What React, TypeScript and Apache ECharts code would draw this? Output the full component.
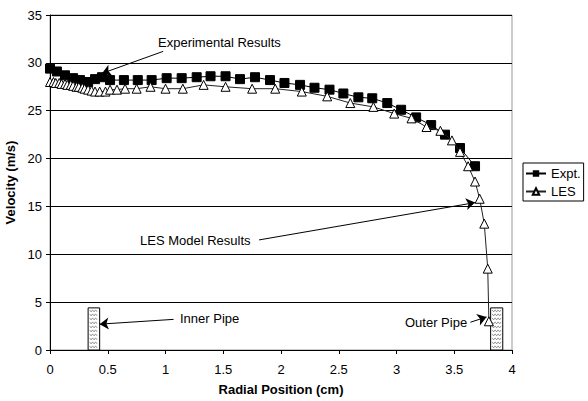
import React, { useEffect, useRef } from "react";
import * as echarts from "echarts";

const exptX = [0, 0.06, 0.13, 0.2, 0.26, 0.33, 0.39, 0.45, 0.52, 0.64, 0.76, 0.88, 1.01, 1.14, 1.27, 1.39, 1.52, 1.645, 1.775, 1.905, 2.03, 2.165, 2.29, 2.42, 2.54, 2.67, 2.79, 2.92, 3.04, 3.17, 3.3, 3.42, 3.55, 3.68];
const exptY = [29.4, 29.1, 28.7, 28.4, 28.2, 28.0, 28.3, 28.5, 28.2, 28.2, 28.2, 28.2, 28.4, 28.4, 28.5, 28.6, 28.6, 28.3, 28.5, 28.2, 27.9, 27.7, 27.4, 27.2, 26.8, 26.4, 26.3, 25.8, 25.1, 24.3, 23.5, 22.5, 21.1, 19.2];

const lesX = [0, 0.03, 0.05, 0.08, 0.1, 0.13, 0.15, 0.18, 0.2, 0.23, 0.25, 0.28, 0.3, 0.33, 0.36, 0.39, 0.43, 0.48, 0.52, 0.58, 0.65, 0.75, 0.87, 1.0, 1.15, 1.33, 1.52, 1.75, 1.95, 2.18, 2.4, 2.6, 2.8, 2.98, 3.13, 3.26, 3.38, 3.48, 3.55, 3.62, 3.68, 3.72, 3.76, 3.79, 3.8];
const lesY = [28.0, 28.0, 27.9, 27.9, 27.8, 27.8, 27.7, 27.7, 27.6, 27.5, 27.5, 27.4, 27.3, 27.2, 27.1, 27.0, 27.0, 27.0, 27.2, 27.2, 27.3, 27.3, 27.5, 27.3, 27.3, 27.7, 27.5, 27.3, 27.3, 27.0, 26.5, 25.8, 25.4, 24.7, 24.2, 23.3, 22.9, 21.9, 20.7, 19.2, 17.6, 15.8, 13.2, 8.5, 3.0];

// pipes: [xStart, xEnd, height]
const pipes = [
  [0.33, 0.43, 4.4],
  [3.815, 3.92, 4.4],
];

// annotation arrows: [fromX, fromY, toX, toY]
const arrows = [
  [0.98, 31.2, 0.45, 28.9],
  [1.81, 11.5, 3.68, 15.4],
  [1.07, 3.2, 0.43, 2.7],
  [3.64, 2.9, 3.78, 3.45],
];

const notes = [
  { text: "Experimental Results", x: 158, y: 44 },
  { text: "LES Model Results", x: 140, y: 242 },
  { text: "Inner Pipe", x: 180, y: 320 },
  { text: "Outer Pipe", x: 405, y: 324 },
];

const FONT = "Liberation Sans, Arial, sans-serif";
const FS = 13;

export default function App() {
  const ref = useRef<HTMLDivElement>(null);
  useEffect(() => {
    if (!ref.current) return;
    const chart = echarts.init(ref.current, null, { renderer: "svg" });
    const option: any = {
      animation: false,
      backgroundColor: "#fff",
      textStyle: { fontFamily: FONT },
      grid: {
        left: 50,
        top: 15,
        right: 76,
        bottom: 51,
        containLabel: false,
        outerBoundsMode: "none",
        show: true,
        borderColor: "#999",
        borderWidth: 1,
        backgroundColor: "transparent",
      },
      legend: {
        orient: "vertical",
        left: 523,
        top: 163,
        data: ["Expt.", "LES"],
        borderColor: "#000",
        borderWidth: 1,
        padding: [4, 3, 3, 2],
        itemGap: 5,
        itemWidth: 20,
        itemHeight: 8,
        textStyle: { fontFamily: FONT, fontSize: FS, color: "#000" },
      },
      xAxis: {
        type: "value",
        min: 0,
        max: 4,
        interval: 0.5,
        name: "Radial Position (cm)",
        nameLocation: "middle",
        nameGap: 33,
        nameTextStyle: { fontFamily: FONT, fontSize: FS, fontWeight: "bold", color: "#000" },
        axisLine: { lineStyle: { color: "#000", width: 1 } },
        axisTick: { show: true, length: 4, lineStyle: { color: "#000" } },
        axisLabel: { fontFamily: FONT, fontSize: FS, color: "#000", margin: 13 },
        splitLine: { show: false },
      },
      yAxis: {
        type: "value",
        min: 0,
        max: 35,
        interval: 5,
        name: "Velocity (m/s)",
        nameLocation: "middle",
        nameGap: 27,
        nameTextStyle: { fontFamily: FONT, fontSize: FS, fontWeight: "bold", color: "#000" },
        axisLine: { show: true, lineStyle: { color: "#000", width: 1 } },
        axisTick: { show: true, length: 4, lineStyle: { color: "#000" } },
        axisLabel: { fontFamily: FONT, fontSize: FS, color: "#000", margin: 8 },
        splitLine: { show: true, lineStyle: { color: "#000", width: 1 } },
      },
      series: [
        {
          name: "pipes",
          type: "custom",
          data: pipes,
          encode: { x: [0, 1], y: 2 },
          z: 3,
          silent: true,
          renderItem: (params: any, api: any) => {
            const p0 = api.coord([api.value(0), api.value(2)]);
            const p1 = api.coord([api.value(1), 0]);
            const w = p1[0] - p0[0];
            const h = p1[1] - p0[1];
            const children: any[] = [
              {
                type: "rect",
                shape: { x: p0[0], y: p0[1], width: w, height: h },
                style: { fill: "#fff", stroke: "#000", lineWidth: 1 },
              },
            ];
            for (let yy = p0[1] + 3; yy < p1[1] - 1; yy += 4) {
              const pts: number[][] = [];
              let k = 0;
              for (let xx = p0[0] + 1.5; xx <= p1[0] - 1.5; xx += 1.5) {
                pts.push([xx, yy + (k % 2 === 0 ? -1 : 1)]);
                k++;
              }
              children.push({
                type: "polyline",
                shape: { points: pts },
                style: { stroke: "#555", lineWidth: 0.6, fill: null },
              });
            }
            return { type: "group", children };
          },
        },
        {
          name: "Expt.",
          type: "line",
          data: exptX.map((x, i) => [x, exptY[i]]),
          symbol: "rect",
          symbolSize: 9,
          itemStyle: { color: "#000", borderColor: "#000" },
          lineStyle: { color: "#000", width: 1 },
          z: 4,
        },
        {
          name: "LES",
          type: "line",
          data: lesX.map((x, i) => [x, lesY[i]]),
          symbol: "triangle",
          symbolSize: 9,
          showAllSymbol: true,
          itemStyle: { color: "#fff", borderColor: "#000", borderWidth: 1 },
          lineStyle: { color: "#222", width: 1 },
          z: 5,
          markLine: {
            silent: true,
            symbol: ["none", "arrow"],
            symbolSize: 9,
            label: { show: false },
            lineStyle: { color: "#000", width: 1, type: "solid" },
            emphasis: { disabled: true },
            data: arrows.map((a) => [
              { coord: [a[0], a[1]] },
              { coord: [a[2], a[3]] },
            ]),
          },
        },
      ],
      graphic: notes.map((n) => ({
        type: "text",
        left: n.x,
        top: n.y - 8,
        silent: true,
        style: { text: n.text, fill: "#000", font: `${FS}px ${FONT}` },
      })),
    };
    chart.setOption(option);
    return () => chart.dispose();
  }, []);
  return (
    <div
      ref={ref}
      style={{ position: "absolute", left: 0, top: 0, width: 588, height: 401 }}
    />
  );
}
